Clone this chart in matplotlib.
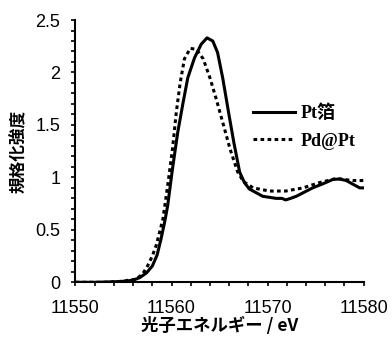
import matplotlib
matplotlib.use("Agg")
import matplotlib.pyplot as plt
from matplotlib.ticker import MultipleLocator, FuncFormatter

# Pt foil (solid line)
pt_e = [11550, 11552, 11554, 11555, 11556, 11556.7, 11557.4, 11558.0, 11558.5,
        11558.9, 11559.3, 11559.6, 11560.1, 11560.65, 11561.2, 11561.7, 11562.4,
        11563.1, 11563.7, 11564.3, 11564.8, 11565.35, 11566.0, 11566.5, 11567.1,
        11567.6, 11568.1, 11569.5, 11570.9, 11571.5, 11571.9, 11572.4, 11573.0,
        11574.7, 11575.8, 11576.8, 11577.5, 11578.2, 11579.0, 11579.6, 11580]
pt_y = [0.0, 0.0, 0.005, 0.01, 0.02, 0.045, 0.09, 0.155, 0.26,
        0.41, 0.58, 0.73, 1.08, 1.43, 1.71, 1.95, 2.14,
        2.27, 2.33, 2.30, 2.19, 1.94, 1.59, 1.33, 1.05,
        0.95, 0.89, 0.82, 0.80, 0.80, 0.785, 0.80, 0.82,
        0.90, 0.94, 0.98, 0.985, 0.97, 0.93, 0.90, 0.90]

# Pd@Pt (dotted line)
pd_e = [11550, 11553, 11555, 11555.5, 11556.3, 11557.0, 11557.5, 11558.0, 11558.4,
        11559.1, 11559.6, 11560.1, 11560.5, 11560.9, 11561.35, 11561.95, 11562.6,
        11563.3, 11564.0, 11564.65, 11565.35, 11566.1, 11566.9, 11567.5, 11568.5,
        11570.2, 11571.9, 11573.7, 11575.4, 11577.2, 11578.0, 11578.9, 11580]
pd_y = [0.0, 0.0, 0.01, 0.02, 0.03, 0.08, 0.155, 0.25, 0.35,
        0.60, 0.92, 1.27, 1.62, 1.90, 2.13, 2.23, 2.22,
        2.13, 1.95, 1.75, 1.52, 1.27, 1.05, 0.96, 0.90,
        0.87, 0.87, 0.90, 0.95, 0.99, 0.98, 0.97, 0.97]

labels = ["Pt箔", "Pd@Pt"]

fig = plt.figure(figsize=(3.92, 3.41), dpi=100)
ax = fig.add_axes([0.1926, 0.1721, 0.7347, 0.7692])

ax.plot(pt_e, pt_y, color="black", lw=2.2, label=labels[0])
ax.plot(pd_e, pd_y, color="black", lw=2.2, linestyle=(0, (1.2, 1.1)), label=labels[1])

ax.set_xlim(11550, 11580)
ax.set_ylim(0, 2.5)
ax.xaxis.set_major_locator(MultipleLocator(10))
ax.xaxis.set_minor_locator(MultipleLocator(2))
ax.yaxis.set_major_locator(MultipleLocator(0.5))
ax.yaxis.set_minor_locator(MultipleLocator(0.1))
ax.yaxis.set_major_formatter(FuncFormatter(lambda v, p: f"{v:g}"))

for s in ["top", "right"]:
    ax.spines[s].set_visible(False)
for s in ["left", "bottom"]:
    ax.spines[s].set_linewidth(1.5)

ax.tick_params(which="both", direction="out", length=3, width=1.2, pad=8,
               labelsize=13)
ax.tick_params(axis="x", which="both", pad=10)
for t in ax.get_xticklabels() + ax.get_yticklabels():
    t.set_fontfamily("Liberation Sans")

cjk = ["Noto Sans CJK JP", "DejaVu Sans"]
ax.set_xlabel("光子エネルギー / eV", family=cjk, fontweight="bold", fontsize=12.5, labelpad=0)
ax.set_ylabel("規格化強度", family=cjk, fontweight="bold", fontsize=12, labelpad=5)

ax.legend(loc="center left", bbox_to_anchor=(0.617, 0.592), frameon=False,
          borderpad=0, borderaxespad=0, handlelength=2.3, handletextpad=0.3,
          labelspacing=0.6,
          prop={"family": ["Liberation Serif", "Noto Sans CJK JP"], "weight": "bold", "size": 13})

fig.savefig("out.png", dpi=100)
